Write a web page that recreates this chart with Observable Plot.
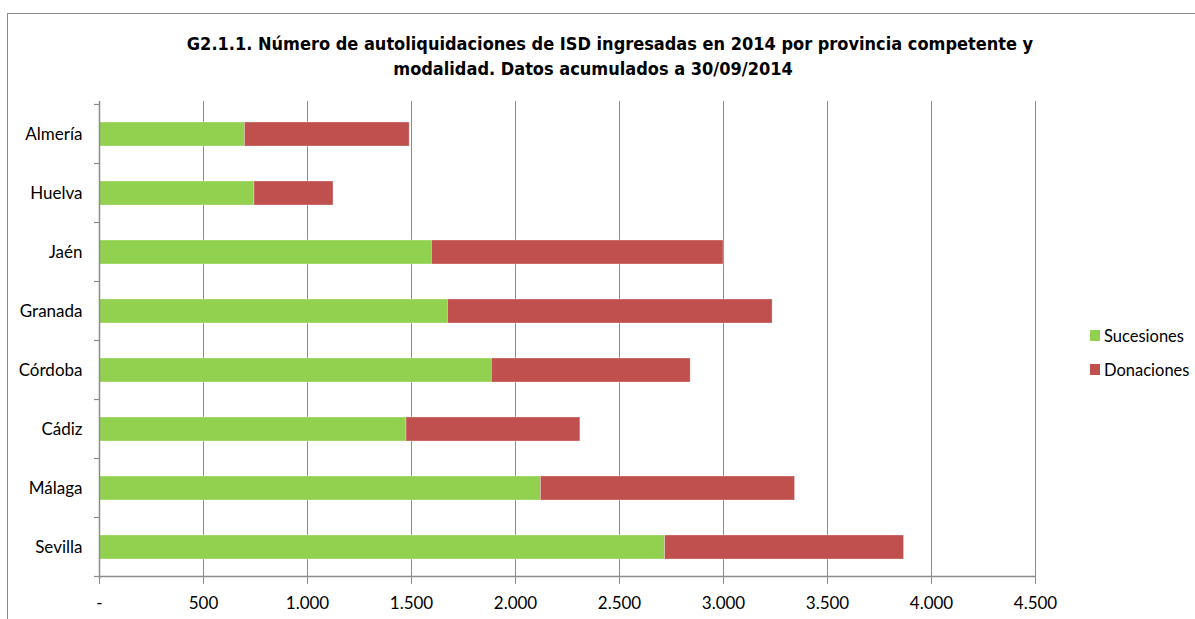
<!DOCTYPE html>
<html>
<head>
<meta charset="utf-8">
<script src="https://cdn.jsdelivr.net/npm/d3@7"></script>
<script src="https://cdn.jsdelivr.net/npm/@observablehq/plot@0.6"></script>
<style>
  html, body { margin: 0; padding: 0; background: #fff; }
  #wrap { position: relative; width: 1195px; height: 619px; overflow: hidden; }
  #frame { position: absolute; left: 7px; top: 13px; width: 1300px; height: 700px; border: 1.5px solid #8a8a8a; box-sizing: border-box; }
  #title { position: absolute; left: 0; width: 1200px; top: 31px; text-align: center; font-family: "Liberation Sans Narrow", "DejaVu Sans Condensed", sans-serif; font-stretch: condensed; font-weight: bold; font-size: 18px; line-height: 25px; color: #000; }
  #title .l1 { padding-left: 20px; }
  #title .l2 { padding-right: 14px; }
  #legend { position: absolute; left: 1090px; top: 326px; font-family: Lato, sans-serif; font-size: 16.5px; color: #000; }
  #legend div { display: flex; align-items: center; height: 19px; margin-bottom: 15px; }
  #legend span.sw { display: inline-block; width: 10px; height: 11px; margin-right: 4px; }
  #chart { position: absolute; left: 0; top: 0; }
</style>
</head>
<body>
<div id="wrap">
  <div id="frame"></div>
  <div id="chart"></div>
  <div id="title"></div>
  <div id="legend"></div>
</div>
<script>
const titleLines = [
  "G2.1.1. Número de autoliquidaciones de ISD ingresadas en 2014 por provincia competente y",
  "modalidad. Datos acumulados a 30/09/2014"
];
const provinces = ["Almería", "Huelva", "Jaén", "Granada", "Córdoba", "Cádiz", "Málaga", "Sevilla"];
const series = ["Sucesiones", "Donaciones"];
const colors = ["#92D050", "#C0504D"];
const sucesiones = [699, 745, 1598, 1675, 1886, 1476, 2122, 2719];
const donaciones = [792, 380, 1402, 1561, 956, 836, 1222, 1149];
const xTicks = [0, 500, 1000, 1500, 2000, 2500, 3000, 3500, 4000, 4500];

const data = [];
provinces.forEach((p, i) => {
  data.push({province: p, serie: series[0], value: sucesiones[i]});
  data.push({province: p, serie: series[1], value: donaciones[i]});
});

const esFmt = d3.formatLocale({decimal: ",", thousands: ".", grouping: [3], currency: ["", ""]}).format(",");
const fmt = d => d === 0 ? "-" : esFmt(d);

const font = "Lato, sans-serif";
const gridColor = "#8c8c8c";

const plot = Plot.plot({
  width: 1195,
  height: 619,
  marginLeft: 99,
  marginRight: 160,
  marginTop: 101,
  marginBottom: 40,
  style: {fontFamily: font, fontSize: "17px", color: "#000", background: "transparent", overflow: "visible"},
  x: {domain: [0, 4500], ticks: xTicks, tickFormat: fmt, label: null},
  y: {domain: provinces, paddingInner: 0.6, paddingOuter: 0.3, label: null},
  color: {domain: series, range: colors},
  marks: [
    Plot.gridX(xTicks.filter(d => d > 0), {stroke: gridColor, strokeOpacity: 1, strokeWidth: 1}),
    Plot.barX(data, Plot.stackX({x: "value", y: "province", fill: "serie", order: series, stroke: "#fff", strokeOpacity: 0.5, strokeWidth: 0.6})),
    Plot.axisX({ticks: xTicks, tickFormat: fmt, tickSize: 5, tickPadding: 12, stroke: gridColor, fill: "#000", label: null}),
    Plot.axisY({tickSize: 0, tickPadding: 17, fill: "#000", label: null}),
    Plot.ruleX([0], {stroke: gridColor, strokeWidth: 1.5})
  ]
});
document.getElementById("chart").appendChild(plot);

// bottom axis line and band boundary ticks on y axis, derived from the scales
const ys = plot.scale("y");
const xs = plot.scale("x");
const svg = d3.select(plot);
const x0 = xs.apply(0);
const xEnd = xs.apply(xTicks[xTicks.length - 1]);
const gap = (ys.step - ys.bandwidth) / 2;
const yBottom = ys.apply(provinces[provinces.length - 1]) + ys.bandwidth + gap;
const bounds = provinces.map(p => ys.apply(p) - gap).concat([yBottom]);
svg.append("line")
  .attr("x1", x0).attr("x2", xEnd).attr("y1", yBottom).attr("y2", yBottom)
  .attr("stroke", gridColor).attr("stroke-width", 1.5);
svg.append("g").selectAll("line").data(bounds).join("line")
  .attr("x1", x0 - 5).attr("x2", x0).attr("y1", d => d).attr("y2", d => d)
  .attr("stroke", gridColor).attr("stroke-width", 1.2);

const t = d3.select("#title");
titleLines.forEach((line, i) => t.append("div").attr("class", "l" + (i + 1)).text(line));
const leg = d3.select("#legend");
series.forEach((s, i) => {
  const row = leg.append("div");
  row.append("span").attr("class", "sw").style("background", colors[i]);
  row.append("span").text(s);
});
</script>
</body>
</html>
